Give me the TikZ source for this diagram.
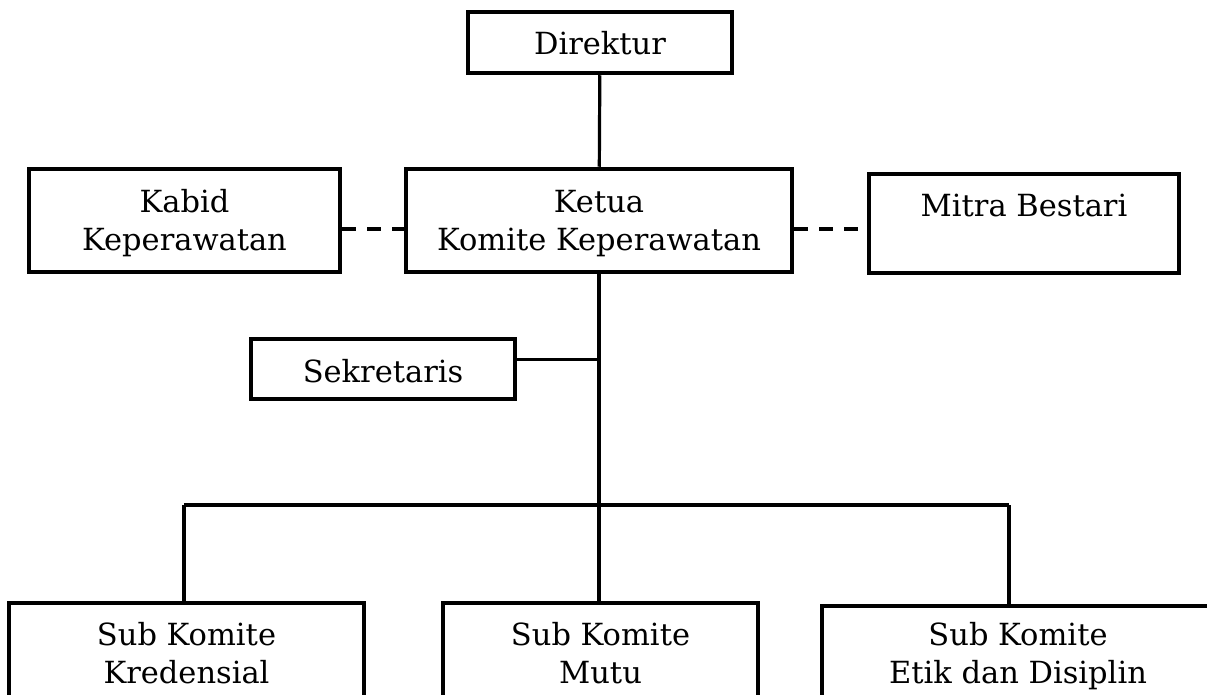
\documentclass[tikz,border=0pt]{standalone}
\usepackage{fontspec}
\setmainfont{DejaVu Serif}
\usetikzlibrary{positioning, calc}

\begin{document}
\begin{tikzpicture}[
  x=1pt, y=-1pt,
  font=\fontsize{30.5}{38}\selectfont,
  unit/.style={draw, line width=4.5pt, align=center, inner sep=0pt, text height=65pt, text depth=6pt},
  link/.style={line width=3.2pt},
  staff/.style={line width=4pt, dash pattern=on 14pt off 11pt}
]
\useasboundingbox (0,0) rectangle (1207,695);
\clip (0,0) rectangle (1207,695);
% top: director and chair with the two staff units
\node[unit, minimum width=264pt, minimum height=61pt, text height=31pt] (direktur) at (600,42.5) {Direktur};
\node[unit, minimum width=386pt, minimum height=103pt] (ketua) at (599,220.5) {Ketua\\Komite Keperawatan};
\node[unit, minimum width=311pt, minimum height=103pt] (kabid) at (184.5,220.5) {Kabid\\Keperawatan};
\node[unit, minimum width=310pt, minimum height=99pt, text height=27pt, text depth=42pt] (mitra) at (1024,223.5) {Mitra Bestari};
\node[unit, minimum width=264pt, minimum height=60pt, text height=32pt] (sekretaris) at (383,369) {Sekretaris};
% sub committees, cut by the lower edge
\node[unit, minimum width=355pt, minimum height=101pt] (kredensial) at (186.5,653.5) {Sub Komite\\Kredensial};
\node[unit, minimum width=315pt, minimum height=101pt] (mutu) at (600.5,653.5) {Sub Komite\\Mutu};
\node[unit, minimum width=392pt, minimum height=101pt, text height=59pt] (etik) at (1018,656.5) {Sub Komite\\Etik dan Disiplin};
% line of command
\draw[link] (direktur) -- (ketua);
\draw[link] (ketua) -- (ketua |- mutu.north);
\draw[link] ($(sekretaris.north east)!0.35!(sekretaris.south east)$) -- ++(84,0);
% bus to the sub committees
\coordinate (busL) at (184,505);
\coordinate (busR) at (1009,505);
\draw[link] (busL) -- (busR);
\draw[link] (busL) -- (busL |- kredensial.north);
\draw[link] (busR) -- (busR |- etik.north);
% coordination (dashed)
\draw[staff] ([yshift=-8pt]kabid.east) -- ([yshift=-8pt]kabid.east -| ketua.west);
\draw[staff] ([yshift=-8pt]ketua.east) -- ([yshift=-8pt]ketua.east -| mitra.west);
\end{tikzpicture}
\end{document}
